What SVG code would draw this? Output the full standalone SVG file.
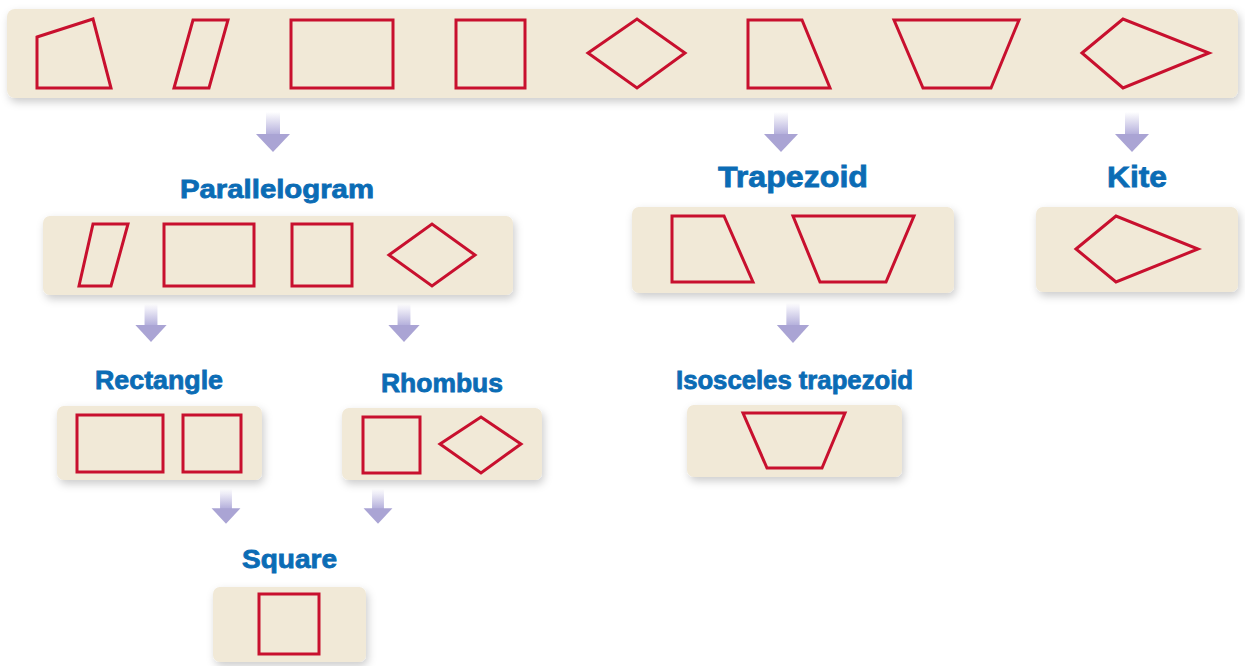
<svg xmlns="http://www.w3.org/2000/svg" width="1245" height="666" viewBox="0 0 1245 666">
<style>
.panel{fill:#f1e9d7;filter:url(#sh)}
.shp{fill:none;stroke:#c8102e;stroke-width:3;stroke-linejoin:miter}
.lbl{font-family:"Liberation Sans",Arial,sans-serif;font-weight:bold;fill:#0b6cb5;stroke:#0b6cb5;stroke-width:0.8;text-anchor:start}
</style>
<defs>
<filter id="sh" x="-10%" y="-20%" width="125%" height="160%">
<feDropShadow dx="2" dy="4" stdDeviation="4" flood-color="#000" flood-opacity="0.2"/>
</filter>
<linearGradient id="shaft" x1="0" y1="0" x2="0" y2="1">
<stop offset="0" stop-color="#ffffff"/>
<stop offset="1" stop-color="#b3aedb"/>
</linearGradient>
<g id="arrow">
<rect x="-7" y="0" width="14" height="23" fill="url(#shaft)"/>
<polygon points="-17,22 17,22 0,40" fill="#aaa4d4"/>
</g>
</defs>
<rect width="1245" height="666" fill="#ffffff"/>

<g id="connectors">
<use href="#arrow" transform="translate(273,112)"/>
<use href="#arrow" transform="translate(781,112)"/>
<use href="#arrow" transform="translate(1132,112)"/>
<use href="#arrow" transform="translate(151,304) scale(0.92,0.95)"/>
<use href="#arrow" transform="translate(404,304) scale(0.92,0.95)"/>
<use href="#arrow" transform="translate(793,303) scale(0.95,1)"/>
<use href="#arrow" transform="translate(226,489) scale(0.85,0.87)"/>
<use href="#arrow" transform="translate(378,489) scale(0.85,0.87)"/>
</g>

<g id="quadrilaterals">
<rect class="panel" x="7" y="9" width="1231" height="89" rx="8"/>
<polygon class="shp" points="37,37 93,19 111,88 37,88"/>
<polygon class="shp" points="193,20 228,20 209,88 174,88"/>
<rect class="shp" x="291" y="20" width="102" height="68"/>
<rect class="shp" x="456" y="20" width="69" height="68"/>
<polygon class="shp" points="588,53 637,19 685,53 637,88"/>
<polygon class="shp" points="748,20 802,20 830,88 748,88"/>
<polygon class="shp" points="894,20 1019,20 991,88 923,88"/>
<polygon class="shp" points="1082,53 1123,19 1209,53 1123,88"/>
</g>

<g id="parallelogram">
<text class="lbl" x="180" y="198" font-size="26" textLength="194" lengthAdjust="spacingAndGlyphs">Parallelogram</text>
<rect class="panel" x="43" y="216" width="470" height="79" rx="7"/>
<polygon class="shp" points="93,224 128,224 111,286 79,286"/>
<rect class="shp" x="164" y="224" width="90" height="62"/>
<rect class="shp" x="292" y="224" width="60" height="62"/>
<polygon class="shp" points="389,255 432,224 475,255 432,286"/>
</g>

<g id="trapezoid">
<text class="lbl" x="718" y="187" font-size="30" textLength="150" lengthAdjust="spacingAndGlyphs">Trapezoid</text>
<rect class="panel" x="632" y="207" width="322" height="86" rx="7"/>
<polygon class="shp" points="672,216 724,216 753,282 672,282"/>
<polygon class="shp" points="793,216 914,216 886,282 820,282"/>
</g>

<g id="kite">
<text class="lbl" x="1107" y="187" font-size="30" textLength="60" lengthAdjust="spacingAndGlyphs">Kite</text>
<rect class="panel" x="1036" y="207" width="202" height="85" rx="7"/>
<polygon class="shp" points="1076,249 1116,216 1198,249 1116,282"/>
</g>

<g id="rectangle">
<text class="lbl" x="95" y="389" font-size="26" textLength="128" lengthAdjust="spacingAndGlyphs">Rectangle</text>
<rect class="panel" x="57" y="406" width="205" height="74" rx="7"/>
<rect class="shp" x="77" y="415" width="86" height="57"/>
<rect class="shp" x="183" y="415" width="58" height="57"/>
</g>

<g id="rhombus">
<text class="lbl" x="381" y="392" font-size="26" textLength="122" lengthAdjust="spacingAndGlyphs">Rhombus</text>
<rect class="panel" x="342" y="408" width="200" height="72" rx="7"/>
<rect class="shp" x="363" y="417" width="57" height="56"/>
<polygon class="shp" points="440,444 481,417 521,444 481,473"/>
</g>

<g id="isosceles-trapezoid">
<text class="lbl" x="676" y="389" font-size="25" textLength="237" lengthAdjust="spacingAndGlyphs">Isosceles trapezoid</text>
<rect class="panel" x="687" y="405" width="215" height="72" rx="7"/>
<polygon class="shp" points="743,413 845,413 822,468 767,468"/>
</g>

<g id="square">
<text class="lbl" x="242" y="568" font-size="26" textLength="95" lengthAdjust="spacingAndGlyphs">Square</text>
<rect class="panel" x="213" y="587" width="153" height="75" rx="7"/>
<rect class="shp" x="259" y="594" width="60" height="60"/>
</g>
</svg>
